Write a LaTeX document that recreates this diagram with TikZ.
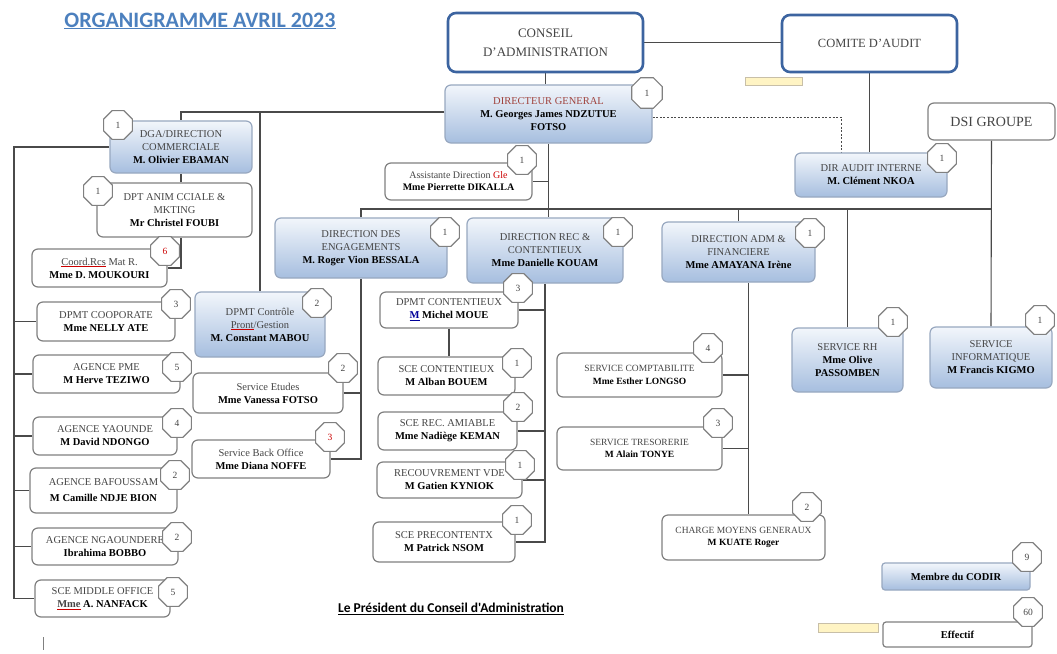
\documentclass[tikz,border=0pt]{standalone}
\usepackage{fontspec}
\setmainfont{Liberation Serif}
\newfontfamily\titlefont{Carlito}
\usetikzlibrary{shapes.geometric}
\pgfdeclarelayer{bg}
\pgfsetlayers{bg,main}
\definecolor{lineC}{HTML}{4A4A4A}
\definecolor{boxB}{HTML}{808080}
\definecolor{blueB}{HTML}{98A8C0}
\definecolor{bigB}{HTML}{3C64A0}
\definecolor{capC}{HTML}{454545}
\definecolor{dgRed}{HTML}{A0433D}
\definecolor{titleC}{HTML}{4C80BE}
\definecolor{shTop}{HTML}{F2F6FB}
\definecolor{shBot}{HTML}{A6BEDF}
\definecolor{yelC}{HTML}{FFF4C4}
\definecolor{yelB}{HTML}{C8BFA8}
\newcommand\pnm[1]{{\bfseries\color{black}#1}}
\newcommand\redul[1]{{\color{red!80!black}\underline{{\color{capC}#1}}}}
\begin{document}
\begin{tikzpicture}[x=1pt,y=-1pt,
  conn/.style={draw=lineC, line width=1.1pt},
  boxw/.style={draw=boxB, line width=1.2pt, fill=white, rounded corners=6pt, align=center,
    inner sep=1pt, font=\fontsize{10.5}{13}\selectfont, text=capC},
  boxb/.style={boxw, draw=blueB, top color=shTop, bottom color=shBot},
  small/.style={font=\fontsize{9.5}{12.5}\selectfont},
  bigbox/.style={draw=bigB, line width=2.6pt, rounded corners=8pt, fill=white, align=center,
    inner sep=1pt, text=capC},
  badge/.style={regular polygon, regular polygon sides=8, minimum size=31pt, inner sep=0pt,
    draw=boxB, line width=1.1pt, fill=white, font=\fontsize{9.5}{10}\selectfont, text=capC},
  yel/.style={draw=yelB, line width=0.8pt, fill=yelC}]
\useasboundingbox (0,0) rectangle (1057,653);

% title and footer
\node[font=\titlefont\bfseries\fontsize{22}{25}\selectfont, text=titleC] (title) at (200,21) {\underline{ORGANIGRAMME AVRIL 2023}};
\node[font=\titlefont\bfseries\fontsize{13.5}{15}\selectfont] (pres) at (451,609) {\underline{Le Président du Conseil d'Administration}};

% top
\node[bigbox, minimum width=195pt, minimum height=59pt, font=\fontsize{13}{19}\selectfont] (CA) at (545.5,42.5) {CONSEIL\\D'ADMINISTRATION};
\node[bigbox, minimum width=175pt, minimum height=57pt, font=\fontsize{12.5}{14}\selectfont] (COM) at (869.5,43.5) {COMITE D'AUDIT};
\node[boxb, minimum width=207pt, minimum height=58pt] (DG) at (548.5,114) {{\color{dgRed}DIRECTEUR GENERAL}\\\pnm{M. Georges James NDZUTUE}\\\pnm{FOTSO}};
\node[boxb, minimum width=152pt, minimum height=44pt] (DAI) at (871,175) {DIR AUDIT INTERNE\\\pnm{M. Clément NKOA}};
\node[boxw, minimum width=127pt, minimum height=37pt, font=\fontsize{14}{16}\selectfont] (DSI) at (991.5,121.5) {DSI GROUPE};

% left branch
\node[boxb, minimum width=142pt, minimum height=52pt] (DGA) at (181,147) {DGA/DIRECTION\\COMMERCIALE\\\pnm{M. Olivier EBAMAN}};
\node[boxw, minimum width=155pt, minimum height=54pt] (ANIM) at (174.5,210) {DPT ANIM CCIALE \&\\MKTING\\\pnm{Mr Christel FOUBI}};
\node[boxw, minimum width=135pt, minimum height=38pt] (COORD) at (99.5,268) {\redul{Coord.Rcs} Mat R.\\\pnm{Mme D. MOUKOURI}};
\node[boxw, minimum width=138pt, minimum height=39pt] (COOP) at (106,321.5) {DPMT COOPORATE\\\pnm{Mme NELLY ATE}};
\node[boxw, minimum width=147pt, minimum height=38pt] (PME) at (106.5,374) {AGENCE PME\\\pnm{M Herve TEZIWO}};
\node[boxw, minimum width=144pt, minimum height=38pt] (YAO) at (105,436) {AGENCE YAOUNDE\\\pnm{M David NDONGO}};
\node[boxw, minimum width=147pt, minimum height=45pt] (BAF) at (103.5,490.5) {AGENCE BAFOUSSAM\\[3pt]\pnm{M Camille NDJE BION}};
\node[boxw, minimum width=146pt, minimum height=37pt] (NGA) at (105,546.5) {AGENCE NGAOUNDERE\\\pnm{Ibrahima BOBBO}};
\node[boxw, minimum width=135pt, minimum height=37pt] (MID) at (102.5,598.5) {SCE MIDDLE OFFICE\\\pnm{\redul{Mme} A. NANFACK}};

% centre
\node[boxw, minimum width=147pt, minimum height=37pt, font=\fontsize{10}{12}\selectfont] (ASS) at (458.5,181.5) {Assistante Direction {\color{red!80!black}Gle}\\\pnm{Mme Pierrette DIKALLA}};
\node[boxb, minimum width=172pt, minimum height=60pt] (DENG) at (361,248) {DIRECTION DES\\ENGAGEMENTS\\\pnm{M. Roger Vion BESSALA}};
\node[boxb, minimum width=156pt, minimum height=65pt] (DREC) at (545,250.5) {DIRECTION REC \&\\CONTENTIEUX\\\pnm{Mme Danielle KOUAM}};
\node[boxb, minimum width=153pt, minimum height=60pt] (DADM) at (738.5,252) {DIRECTION ADM \&\\FINANCIERE\\\pnm{Mme AMAYANA Irène}};
\node[boxb, minimum width=130pt, minimum height=65pt] (DPC) at (260,324.5) {DPMT Contrôle\\\redul{Pront}/Gestion\\\pnm{M. Constant MABOU}};
\node[boxw, minimum width=150pt, minimum height=40pt] (SETU) at (268,393) {Service Etudes\\\pnm{Mme Vanessa FOTSO}};
\node[boxw, minimum width=138pt, minimum height=38pt] (BACK) at (261,459) {Service Back Office\\\pnm{Mme Diana NOFFE}};
\node[boxw, minimum width=138pt, minimum height=36pt] (DCONT) at (449,310) {DPMT CONTENTIEUX\\\pnm{{\color{blue!60!black}\underline{M}} Michel MOUE}};
\node[boxw, minimum width=137pt, minimum height=38pt] (SCONT) at (446.5,376) {SCE CONTENTIEUX\\\pnm{M Alban BOUEM}};
\node[boxw, minimum width=139pt, minimum height=38pt] (AMI) at (447.5,431) {SCE REC. AMIABLE\\\pnm{Mme Nadiège KEMAN}};
\node[boxw, minimum width=145pt, minimum height=36pt] (RECV) at (449.5,480) {RECOUVREMENT VDE\\\pnm{M Gatien KYNIOK}};
\node[boxw, minimum width=142pt, minimum height=40pt] (PREC) at (444,542) {SCE PRECONTENTX\\\pnm{M Patrick NSOM}};

% right
\node[boxw, small, minimum width=165pt, minimum height=44pt] (SCOMP) at (639.5,375) {SERVICE COMPTABILITE\\\pnm{Mme Esther LONGSO}};
\node[boxw, small, minimum width=165pt, minimum height=43pt] (STRE) at (639.5,448.5) {SERVICE TRESORERIE\\\pnm{M Alain TONYE}};
\node[boxw, small, minimum width=163pt, minimum height=45pt] (CMG) at (743.5,537.5) {CHARGE MOYENS GENERAUX\\\pnm{M KUATE Roger}};
\node[boxb, minimum width=111pt, minimum height=64pt] (SRH) at (847.5,360) {SERVICE RH\\\pnm{Mme Olive}\\\pnm{PASSOMBEN}};
\node[boxb, minimum width=122pt, minimum height=61pt] (SINF) at (991,357.5) {SERVICE\\INFORMATIQUE\\\pnm{M Francis KIGMO}};
\node[boxb, minimum width=148pt, minimum height=27pt, rounded corners=3pt] (CODIR) at (956,576.5) {\pnm{Membre du CODIR}};
\node[boxw, minimum width=149pt, minimum height=25pt, rounded corners=3pt] (EFF) at (957.5,634.5) {\pnm{Effectif}};

% yellow markers and cursor
\draw[yel] (745,77) rectangle (802,85);
\draw[yel] (818,623) rectangle (878,632);
\draw[gray, line width=0.8pt] (43,637) -- (43,650);

% connectors
\coordinate (hL) at (361,209);
\coordinate (sp) at (14,0);
\coordinate (admx) at ([xshift=10pt]DADM.south);
\coordinate (dgw) at ([yshift=2pt]DG.west);
\coordinate (dge) at ([yshift=-3pt]DG.east);
\coordinate (dai) at ([xshift=-30pt]DAI.north);
\begin{pgfonlayer}{bg}
\fill[white] (0,0) rectangle (1057,653);
\draw[conn] (CA.east) -- (CA.east -| COM.west);
\draw[conn] (CA.south) -- (CA.south |- DG.north);
\draw[conn] (COM.south) -- (COM.south |- DAI.north);
\draw[draw=lineC, line width=0.9pt, dash pattern=on 2pt off 1.6pt] (dge) -| (dai);
\draw[conn] (DSI.south) -- (SINF.north);
\draw[conn] (DG.south) -- (DG.south |- DREC.north);
\draw[conn] (ASS.east) -- (ASS.east -| DG.south);
\draw[conn] (DENG.north) |- (SINF.north |- hL);
\draw[conn] (DADM.north) -- (DADM.north |- hL);
\draw[conn] (SRH.north) -- (SRH.north |- hL);
\draw[conn] (dgw) -| (DGA.north);
\draw[conn] (DPC.north) -- (DPC.north |- dgw);
\draw[conn] (DGA.south) -- (DGA.south |- ANIM.north);
\draw[conn] (DGA.south |- ANIM.south) |- (COORD.east);
\draw[conn] (DGA.west) -| (sp |- MID.west) -- (MID.west);
\draw[conn] (sp |- COOP.west) -- (COOP.west);
\draw[conn] (sp |- PME.west) -- (PME.west);
\draw[conn] (sp |- YAO.west) -- (YAO.west);
\draw[conn] (sp |- BAF.west) -- (BAF.west);
\draw[conn] (sp |- NGA.west) -- (NGA.west);
\draw[conn] (DENG.south) |- (BACK.east);
\draw[conn] (SETU.east) -- (SETU.east -| DENG.south);
\draw[conn] (DREC.south) |- (PREC.east);
\draw[conn] (DCONT.east) -- (DCONT.east -| DREC.south);
\draw[conn] (AMI.east) -- (AMI.east -| DREC.south);
\draw[conn] (RECV.east) -- (RECV.east -| DREC.south);
\draw[conn] (DCONT.south) -- (DCONT.south |- SCONT.north);
\draw[conn] (admx) -- (admx |- CMG.north);
\draw[conn] (SCOMP.east) -- (SCOMP.east -| admx);
\draw[conn] (STRE.east) -- (STRE.east -| admx);
\end{pgfonlayer}

% badges
\node[badge, minimum size=33pt] (bDG) at (647,93) {1};
\node[badge] (bDAI) at (942,158) {1};
\node[badge] (bDGA) at (118,125) {1};
\node[badge] (bANIM) at (98,191) {1};
\node[badge, text=red!80!black] (bCOORD) at (165,251) {6};
\node[badge] (bCOOP) at (176,304) {3};
\node[badge] (bPME) at (177,367) {5};
\node[badge] (bYAO) at (177,423) {4};
\node[badge] (bBAF) at (175,475) {2};
\node[badge] (bNGA) at (177,537) {2};
\node[badge] (bMID) at (173,592) {5};
\node[badge] (bASS) at (522,160) {1};
\node[badge] (bDENG) at (445,232) {1};
\node[badge] (bDREC) at (618,232) {1};
\node[badge] (bDADM) at (810,233) {1};
\node[badge] (bDPC) at (317,303) {2};
\node[badge] (bSETU) at (343,368) {2};
\node[badge, text=red!80!black] (bBACK) at (330,437) {3};
\node[badge] (bDCONT) at (518,288) {3};
\node[badge] (bSCONT) at (517,363) {1};
\node[badge] (bAMI) at (518,407) {2};
\node[badge] (bRECV) at (520,465) {1};
\node[badge] (bPREC) at (517,520) {1};
\node[badge] (bSCOMP) at (708,348) {4};
\node[badge] (bSTRE) at (718,423) {3};
\node[badge] (bCMG) at (807,507) {2};
\node[badge] (bSRH) at (893,322) {1};
\node[badge] (bSINF) at (1040,320) {1};
\node[badge] (bCODIR) at (1027,557) {9};
\node[badge] (bEFF) at (1028,612) {60};
\end{tikzpicture}
\end{document}
